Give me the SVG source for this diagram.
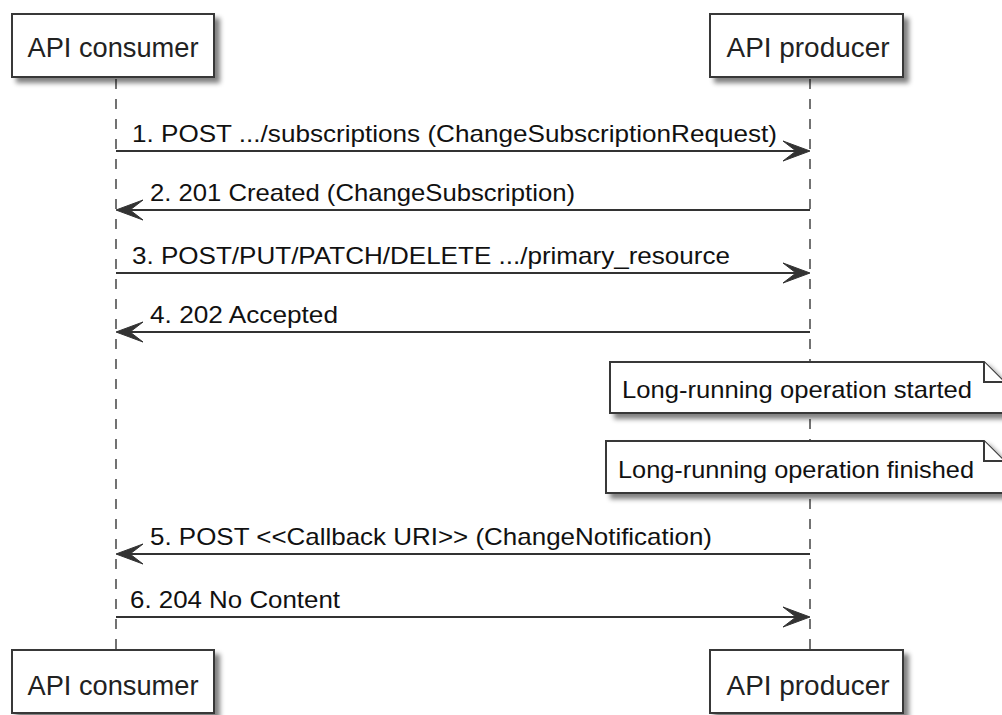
<svg xmlns="http://www.w3.org/2000/svg" width="1002" height="715" viewBox="0 0 1002 715">
<style>
.box{fill:#fff;stroke:#383838;stroke-width:2}
.pt{font-family:"Liberation Sans",Arial,sans-serif;font-size:27px;fill:#222}
.mt{font-family:"Liberation Sans",Arial,sans-serif;font-size:24px;fill:#111}
.life{stroke:#444;stroke-width:1.5;stroke-dasharray:10,10;fill:none}
.msg{stroke:#333;stroke-width:2;fill:none}
.head{fill:#333;stroke:#333;stroke-width:1}
</style>
<defs>
<filter id="sh" x="-10%" y="-20%" width="130%" height="160%">
<feGaussianBlur in="SourceAlpha" stdDeviation="2.5"/>
<feOffset dx="5" dy="5" result="b"/>
<feComponentTransfer><feFuncA type="linear" slope="0.5"/></feComponentTransfer>
<feMerge><feMergeNode/><feMergeNode in="SourceGraphic"/></feMerge>
</filter>
</defs>
<rect width="1002" height="715" fill="#fff"/>
<g id="lifelines">
<line class="life" x1="116" y1="79" x2="116" y2="650"/>
<line class="life" x1="810" y1="79" x2="810" y2="650"/>
</g>
<g id="consumer-top"><rect class="box" x="12" y="14" width="202" height="63" filter="url(#sh)"/><text class="pt" x="113" y="57" text-anchor="middle" textLength="171" lengthAdjust="spacingAndGlyphs">API consumer</text></g>
<g id="producer-top"><rect class="box" x="710" y="14" width="193" height="63" filter="url(#sh)"/><text class="pt" x="808" y="57" text-anchor="middle" textLength="163" lengthAdjust="spacingAndGlyphs">API producer</text></g>
<g id="consumer-bottom"><rect class="box" x="12" y="650" width="202" height="63" filter="url(#sh)"/><text class="pt" x="113" y="695" text-anchor="middle" textLength="171" lengthAdjust="spacingAndGlyphs">API consumer</text></g>
<g id="producer-bottom"><rect class="box" x="710" y="650" width="193" height="63" filter="url(#sh)"/><text class="pt" x="808" y="695" text-anchor="middle" textLength="163" lengthAdjust="spacingAndGlyphs">API producer</text></g>
<g id="note-started"><path class="box" d="M610,362 L984,362 L1004,382 L1004,413 L610,413 Z" filter="url(#sh)"/><path class="box" d="M984,362 L984,382 L1004,382" fill="none"/><text class="mt" x="622" y="398" textLength="350" lengthAdjust="spacingAndGlyphs">Long-running operation started</text></g>
<g id="note-finished"><path class="box" d="M606,441 L984,441 L1004,461 L1004,493 L606,493 Z" filter="url(#sh)"/><path class="box" d="M984,441 L984,461 L1004,461" fill="none"/><text class="mt" x="618" y="478" textLength="356" lengthAdjust="spacingAndGlyphs">Long-running operation finished</text></g>
<g id="connectors">
<line class="msg" x1="116" y1="151" x2="806" y2="151"/>
<polygon class="head" points="810,151 783,141 796,151 783,161"/>
<line class="msg" x1="120" y1="210" x2="810" y2="210"/>
<polygon class="head" points="116,210 143,200 130,210 143,220"/>
<line class="msg" x1="116" y1="273" x2="806" y2="273"/>
<polygon class="head" points="810,273 783,263 796,273 783,283"/>
<line class="msg" x1="120" y1="332" x2="810" y2="332"/>
<polygon class="head" points="116,332 143,322 130,332 143,342"/>
<line class="msg" x1="120" y1="554" x2="810" y2="554"/>
<polygon class="head" points="116,554 143,544 130,554 143,564"/>
<line class="msg" x1="116" y1="617" x2="806" y2="617"/>
<polygon class="head" points="810,617 783,607 796,617 783,627"/>
</g>
<g id="labels">
<text class="mt" x="132" y="142" textLength="645" lengthAdjust="spacingAndGlyphs">1. POST .../subscriptions (ChangeSubscriptionRequest)</text>
<text class="mt" x="150" y="201" textLength="425" lengthAdjust="spacingAndGlyphs">2. 201 Created (ChangeSubscription)</text>
<text class="mt" x="132" y="264" textLength="598" lengthAdjust="spacingAndGlyphs">3. POST/PUT/PATCH/DELETE .../primary_resource</text>
<text class="mt" x="150" y="323" textLength="188" lengthAdjust="spacingAndGlyphs">4. 202 Accepted</text>
<text class="mt" x="150" y="545" textLength="562" lengthAdjust="spacingAndGlyphs">5. POST &lt;&lt;Callback URI&gt;&gt; (ChangeNotification)</text>
<text class="mt" x="130" y="608" textLength="210" lengthAdjust="spacingAndGlyphs">6. 204 No Content</text>
</g>
</svg>
